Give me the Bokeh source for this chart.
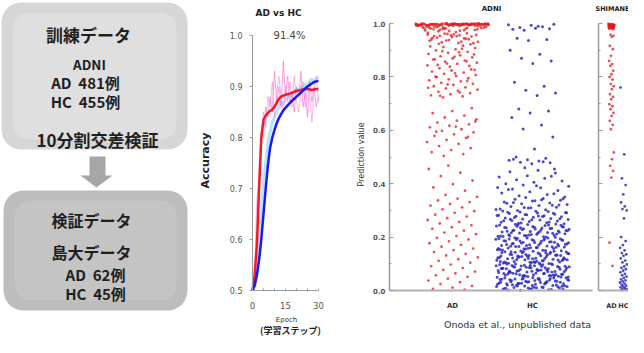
import math
from bokeh.plotting import figure
from bokeh.models import Range1d, LinearAxis, FixedTicker, PrintfTickFormatter
from bokeh.core.properties import value
from bokeh.embed import file_html
from bokeh.resources import INLINE

# ---------------- data ----------------
TRAIN_TITLE = "訓練データ"
TRAIN_SOURCE = "ADNI"
TRAIN_COUNTS = ["AD\u00a0\u00a0481例", "HC\u00a0\u00a0455例"]
TRAIN_METHOD = "10分割交差検証"
TEST_TITLE = "検証データ"
TEST_SOURCE = "島大データ"
TEST_COUNTS = ["AD\u00a0\u00a062例", "HC\u00a0\u00a045例"]

ACC_TITLE = "AD vs HC"
ACC_SCORE = "91.4%"
ACC_YLABEL = "Accuracy"
ACC_XLABEL = ["Epoch", "(学習ステップ)"]
EPOCHS = list(range(31))
ACC_RED = [0.50, 0.53, 0.59, 0.70, 0.80, 0.835, 0.843, 0.848, 0.852, 0.855, 0.860,
           0.868, 0.876, 0.880, 0.882, 0.884, 0.885, 0.886, 0.888, 0.890, 0.891,
           0.892, 0.893, 0.894, 0.895, 0.895, 0.894, 0.893, 0.894, 0.895, 0.895]
ACC_BLUE = [0.50, 0.51, 0.53, 0.56, 0.60, 0.65, 0.70, 0.745, 0.78, 0.80, 0.815,
            0.828, 0.838, 0.846, 0.853, 0.858, 0.863, 0.868, 0.872, 0.876, 0.880,
            0.884, 0.888, 0.892, 0.896, 0.900, 0.903, 0.906, 0.909, 0.910, 0.911]
ACC_PINK_1 = [0.50, 0.52, 0.60, 0.74, 0.81, 0.80, 0.86, 0.84, 0.88, 0.85, 0.93,
              0.87, 0.90, 0.86, 0.95, 0.88, 0.92, 0.87, 0.89, 0.85, 0.90,
              0.88, 0.93, 0.86, 0.89, 0.84, 0.91, 0.87, 0.90, 0.86, 0.88]
ACC_PINK_2 = [0.50, 0.55, 0.68, 0.72, 0.78, 0.85, 0.82, 0.88, 0.86, 0.91, 0.84,
              0.89, 0.92, 0.88, 0.85, 0.90, 0.87, 0.91, 0.86, 0.92, 0.87,
              0.85, 0.89, 0.91, 0.86, 0.90, 0.88, 0.83, 0.89, 0.92, 0.87]
ACC_LIGHTBLUE = [0.50, 0.52, 0.55, 0.60, 0.66, 0.71, 0.75, 0.79, 0.81, 0.83, 0.84,
                 0.85, 0.86, 0.87, 0.865, 0.875, 0.88, 0.885, 0.88, 0.89, 0.895,
                 0.89, 0.90, 0.895, 0.905, 0.90, 0.91, 0.915, 0.905, 0.915, 0.92]
ACC_YTICKS = [0.5, 0.6, 0.7, 0.8, 0.9, 1.0]
ACC_XTICKS = [0, 15, 30]
ACC_XMINOR = [5, 10, 20, 25]

PANELS = ["ADNI", "SHIMANE"]
GROUPS = ["AD", "HC"]
PRED_YLABEL = "Prediction value"
PRED_TICKS = [0.0, 0.2, 0.4, 0.6, 0.8, 1.0]
PRED_MINOR = [0.1, 0.3, 0.5, 0.7, 0.9]
CREDIT = "Onoda et al., unpublished data"

ADNI_AD = [
    0.999, 0.998, 0.997, 0.999, 0.996, 0.995, 0.998, 0.994, 0.999, 0.997,
    0.993, 0.996, 0.998, 0.992, 0.999, 0.995, 0.997, 0.991, 0.998, 0.994,
    0.999, 0.996, 0.990, 0.997, 0.998, 0.993, 0.995, 0.999, 0.989, 0.996,
    0.998, 0.994, 0.997, 0.999, 0.992, 0.995, 0.988, 0.998, 0.996, 0.999,
    0.993, 0.997, 0.987, 0.995, 0.998, 0.991, 0.999, 0.994, 0.996, 0.986,
    0.998, 0.997, 0.993, 0.999, 0.985, 0.995, 0.996, 0.998, 0.990, 0.997,
    0.999, 0.984, 0.994, 0.998, 0.996, 0.992, 0.999, 0.983, 0.997, 0.995,
    0.998, 0.989, 0.999, 0.982, 0.996, 0.994, 0.998, 0.997, 0.981, 0.999,
    0.993, 0.995, 0.980, 0.998, 0.996, 0.999, 0.988, 0.997, 0.979, 0.994,
    0.998, 0.978, 0.999, 0.995, 0.986, 0.997, 0.977, 0.996, 0.998, 0.984,
    0.976, 0.999, 0.993, 0.975, 0.997, 0.982, 0.998, 0.974, 0.995, 0.980,
    0.999, 0.973, 0.996, 0.978, 0.972, 0.994, 0.998, 0.971, 0.985, 0.968,
    0.965, 0.963, 0.961, 0.958, 0.956, 0.954, 0.951, 0.949, 0.946, 0.944,
    0.962, 0.957, 0.952, 0.947, 0.941, 0.938, 0.935, 0.932, 0.929, 0.926,
    0.959, 0.953, 0.943, 0.936, 0.931, 0.927, 0.924, 0.922, 0.955, 0.940,
    0.917, 0.912, 0.908, 0.903, 0.899, 0.894, 0.890, 0.886, 0.881, 0.877,
    0.873, 0.869, 0.865, 0.861, 0.857, 0.853, 0.849, 0.845, 0.841, 0.838,
    0.914, 0.905, 0.896, 0.884, 0.875, 0.866, 0.858, 0.850, 0.843, 0.892,
    0.832, 0.828, 0.824, 0.820, 0.816, 0.811, 0.807, 0.803, 0.799, 0.795,
    0.791, 0.787, 0.783, 0.778, 0.774, 0.770, 0.765, 0.761, 0.757, 0.752,
    0.748, 0.744, 0.739, 0.735, 0.731, 0.727, 0.723, 0.826, 0.813, 0.801,
    0.785, 0.772, 0.759, 0.742, 0.729,
    0.683, 0.672, 0.664, 0.655, 0.648, 0.641, 0.636, 0.629, 0.622, 0.617,
    0.611, 0.604, 0.598, 0.592, 0.585, 0.579, 0.571, 0.564, 0.556, 0.549,
    0.541, 0.533, 0.526, 0.518, 0.511, 0.504, 0.633, 0.614, 0.595, 0.575,
    0.468, 0.455, 0.441, 0.428, 0.412, 0.398, 0.386, 0.374,
    0.358, 0.351, 0.344, 0.337, 0.331, 0.324, 0.318, 0.311, 0.304, 0.297,
    0.291, 0.284, 0.277, 0.271, 0.264, 0.257, 0.251, 0.244, 0.237, 0.231,
    0.224, 0.217, 0.211, 0.204, 0.197, 0.191, 0.184, 0.177, 0.171, 0.164,
    0.157, 0.151, 0.144, 0.137, 0.131, 0.124, 0.117, 0.111, 0.104, 0.097,
    0.091, 0.084, 0.077, 0.071, 0.064, 0.057, 0.051, 0.044, 0.037, 0.031,
    0.024, 0.017, 0.011, 0.006, 0.003,
]

ADNI_HC = [
    0.995, 0.990, 0.985, 0.980, 0.993, 0.978, 0.988, 0.975, 0.997, 0.982,
    0.945, 0.940, 0.936,
    0.900, 0.885, 0.870, 0.860, 0.850,
    0.780, 0.765, 0.750, 0.740, 0.730,
    0.680, 0.672, 0.665, 0.648,
    0.620, 0.605, 0.575, 0.530,
    0.500, 0.495, 0.490, 0.488, 0.485, 0.480, 0.478, 0.475, 0.492, 0.482,
    0.460, 0.455, 0.450, 0.445, 0.440,
    0.430, 0.425, 0.420, 0.415, 0.410, 0.405, 0.400, 0.428,
    0.395, 0.390, 0.385, 0.380, 0.375, 0.370, 0.365, 0.360, 0.355, 0.350,
    0.392, 0.378, 0.362, 0.348, 0.386,
    0.345, 0.342, 0.338, 0.335, 0.331, 0.328, 0.325, 0.322, 0.318, 0.315,
    0.312, 0.309, 0.305, 0.302, 0.300, 0.344, 0.336, 0.327, 0.319, 0.311,
    0.303, 0.340, 0.330, 0.320, 0.310,
    0.298, 0.296, 0.294, 0.292, 0.290, 0.288, 0.286, 0.284, 0.282, 0.280,
    0.278, 0.276, 0.274, 0.272, 0.270, 0.268, 0.266, 0.264, 0.262, 0.260,
    0.258, 0.256, 0.254, 0.252, 0.250, 0.297, 0.293, 0.289, 0.285, 0.281,
    0.277, 0.273, 0.269, 0.265, 0.261, 0.257, 0.253, 0.291, 0.279, 0.267,
    0.249, 0.247, 0.245, 0.243, 0.241, 0.239, 0.237, 0.235, 0.233, 0.231,
    0.229, 0.227, 0.225, 0.223, 0.221, 0.219, 0.217, 0.215, 0.213, 0.211,
    0.209, 0.207, 0.205, 0.203, 0.201, 0.248, 0.244, 0.240, 0.236, 0.232,
    0.228, 0.224, 0.220, 0.216, 0.212, 0.208, 0.204, 0.200, 0.246, 0.238,
    0.230, 0.222, 0.214, 0.206, 0.242, 0.234, 0.226, 0.218, 0.210, 0.202,
    0.245, 0.235, 0.225, 0.215, 0.205,
    0.199, 0.197, 0.195, 0.193, 0.191, 0.189, 0.187, 0.185, 0.183, 0.181,
    0.179, 0.177, 0.175, 0.173, 0.171, 0.169, 0.167, 0.165, 0.163, 0.161,
    0.159, 0.157, 0.155, 0.153, 0.151, 0.198, 0.194, 0.190, 0.186, 0.182,
    0.178, 0.174, 0.170, 0.166, 0.162, 0.158, 0.154, 0.150, 0.196, 0.188,
    0.180, 0.172, 0.164, 0.156, 0.192, 0.184, 0.176, 0.168, 0.160, 0.152,
    0.197, 0.185, 0.173, 0.161, 0.193, 0.181, 0.169, 0.157, 0.189, 0.165,
    0.149, 0.147, 0.145, 0.143, 0.141, 0.139, 0.137, 0.135, 0.133, 0.131,
    0.129, 0.127, 0.125, 0.123, 0.121, 0.119, 0.117, 0.115, 0.113, 0.111,
    0.109, 0.107, 0.105, 0.103, 0.101, 0.148, 0.144, 0.140, 0.136, 0.132,
    0.128, 0.124, 0.120, 0.116, 0.112, 0.108, 0.104, 0.100, 0.146, 0.138,
    0.130, 0.122, 0.114, 0.106, 0.142, 0.134, 0.126, 0.118, 0.110, 0.102,
    0.147, 0.135, 0.123, 0.111, 0.143, 0.131, 0.119, 0.107, 0.139, 0.127,
    0.115, 0.103, 0.145, 0.133, 0.121, 0.109, 0.141, 0.129, 0.117, 0.105,
    0.099, 0.097, 0.095, 0.093, 0.091, 0.089, 0.087, 0.085, 0.083, 0.081,
    0.079, 0.077, 0.075, 0.073, 0.071, 0.069, 0.067, 0.065, 0.063, 0.061,
    0.059, 0.057, 0.055, 0.053, 0.051, 0.098, 0.094, 0.090, 0.086, 0.082,
    0.078, 0.074, 0.070, 0.066, 0.062, 0.058, 0.054, 0.050, 0.096, 0.088,
    0.080, 0.072, 0.064, 0.056, 0.092, 0.084, 0.076, 0.068, 0.060, 0.052,
    0.097, 0.085, 0.073, 0.061, 0.093, 0.081, 0.069, 0.057, 0.089, 0.077,
    0.065, 0.053, 0.095, 0.083, 0.071, 0.059, 0.091, 0.079, 0.067, 0.055,
    0.087, 0.075, 0.063, 0.099, 0.051,
    0.049, 0.047, 0.045, 0.043, 0.041, 0.039, 0.037, 0.035, 0.033, 0.031,
    0.029, 0.027, 0.025, 0.023, 0.021, 0.019, 0.017, 0.015, 0.013, 0.011,
    0.009, 0.007, 0.005, 0.003, 0.001, 0.048, 0.044, 0.040, 0.036, 0.032,
    0.028, 0.024, 0.020, 0.016, 0.012, 0.008, 0.004, 0.046, 0.038, 0.030,
    0.022, 0.014, 0.006, 0.042, 0.034, 0.026, 0.018, 0.010, 0.002, 0.047,
    0.035, 0.023, 0.011, 0.043, 0.031, 0.019, 0.007, 0.039, 0.027, 0.015,
    0.045, 0.033, 0.021, 0.009, 0.041, 0.029, 0.017, 0.005, 0.037, 0.025,
]

SHIM_AD = [
    0.999, 0.998, 0.997, 0.996, 0.995, 0.994, 0.993, 0.992, 0.991, 0.990,
    0.989, 0.988, 0.987, 0.986, 0.985, 0.984, 0.983, 0.982, 0.980, 0.978,
    0.997, 0.994, 0.991, 0.988, 0.985, 0.996, 0.993, 0.989,
    0.958, 0.954, 0.950,
    0.916, 0.904, 0.879, 0.860, 0.848, 0.841, 0.823, 0.810, 0.800, 0.790,
    0.773, 0.765, 0.754, 0.735, 0.725, 0.716, 0.698, 0.690, 0.679, 0.665,
    0.654, 0.635, 0.620, 0.604,
    0.517, 0.492, 0.467, 0.448, 0.423,
    0.179, 0.092,
]
SHIM_HC = [
    0.760, 0.510, 0.420, 0.395, 0.360, 0.330, 0.315, 0.305, 0.300, 0.270,
    0.200, 0.185, 0.170, 0.160, 0.150, 0.140, 0.135, 0.130,
    0.120, 0.112, 0.105, 0.098, 0.090, 0.085, 0.080, 0.074, 0.068, 0.062,
    0.057, 0.052, 0.047, 0.042, 0.038, 0.034, 0.030, 0.026, 0.022, 0.018,
    0.015, 0.012, 0.009, 0.006, 0.004, 0.002, 0.001,
]

# ---------------- layout (reference pixel coordinates) ----------------
W, H = 628, 337
X0, X1 = 8, 636
Y0, Y1 = 8, 345

JP = value("Noto Sans CJK JP")
SANS = value("DejaVu Sans")


def lin_range(va, pa, vb, pb, plo, phi):
    k = (vb - va) / (pb - pa)
    return Range1d(start=va + (plo - pa) * k, end=va + (phi - pa) * k)


def px_to_val(va, pa, vb, pb, px):
    return va + (px - pa) * (vb - va) / (pb - pa)


def strip_x(center, values, wide, narrow, cut, wide_above):
    """Deterministic strip-plot spread: wider where the strip is dense."""
    out = []
    for i, v in enumerate(values):
        frac = (((i * 0.6180339887) % 1.0) * 2.0) - 1.0
        dense = (v >= cut) if wide_above else (v <= cut)
        out.append(center + frac * (wide if dense else narrow))
    return out


p = figure(width=W, height=H, x_range=Range1d(X0, X1), y_range=Range1d(Y1, Y0),
           output_backend="svg", toolbar_location=None, min_border=0,
           x_axis_location=None, y_axis_location=None)
p.grid.visible = False
p.outline_line_color = None
p.background_fill_color = "white"

# sub-plot scales
ACC_MAP_X = (0, 260, 30, 326)
ACC_MAP_Y = (0.5, 298, 1.0, 43)
ADNI_MAP_X = (1, 460, 2, 540)
SHIM_MAP_X = (1, 619, 2, 631)
PRED_MAP_Y = (0.0, 298, 1.0, 31)

p.extra_x_ranges = {
    "acc_x": lin_range(*ACC_MAP_X, X0, X1),
    "adni_x": lin_range(*ADNI_MAP_X, X0, X1),
    "shim_x": lin_range(*SHIM_MAP_X, X0, X1),
}
p.extra_y_ranges = {
    "acc_y": lin_range(*ACC_MAP_Y, Y1, Y0),
    "pred_y": lin_range(*PRED_MAP_Y, Y1, Y0),
}

# ---------------- flowchart ----------------
p.quad(left=[9], right=[195], top=[10], bottom=[157], border_radius=20,
       fill_color="#d6d6d6", line_color=None)
p.quad(left=[20], right=[184], top=[20], bottom=[147], border_radius=16,
       fill_color="#e2e2e2", fill_alpha=0.7, line_color=None)
p.quad(left=[11], right=[195], top=[198], bottom=[318], border_radius=20,
       fill_color="#bdbdbd", line_color=None)
p.quad(left=[22], right=[184], top=[208], bottom=[308], border_radius=16,
       fill_color="#c8c8c8", fill_alpha=0.7, line_color=None)
p.patch(x=[97, 113, 113, 120, 104, 88, 97], y=[164, 164, 183, 183, 195, 183, 183],
        fill_color="#a6a6a6", line_color=None)

TXT = "#1f1f1f"
p.text(x=[96], y=[42], text=[TRAIN_TITLE], text_font=JP, text_font_style="bold",
       text_font_size="17px", text_align="center", text_baseline="middle", text_color=TXT)
p.text(x=[97], y=[71], text=[TRAIN_SOURCE], text_font=JP, text_font_style="bold",
       text_font_size="13.5px", text_align="center", text_baseline="middle", text_color=TXT)
p.text(x=[93, 93], y=[90, 109], text=TRAIN_COUNTS, text_font=JP, text_font_style="bold",
       text_font_size="15px", text_align="center", text_baseline="middle", text_color=TXT)
p.text(x=[105], y=[147], text=[TRAIN_METHOD], text_font=JP, text_font_style="bold",
       text_font_size="17px", text_align="center", text_baseline="middle", text_color=TXT)
p.text(x=[99, 99], y=[227, 259], text=[TEST_TITLE, TEST_SOURCE], text_font=JP,
       text_font_style="bold", text_font_size="16px", text_align="center",
       text_baseline="middle", text_color=TXT)
p.text(x=[103, 103], y=[282, 301], text=TEST_COUNTS, text_font=JP, text_font_style="bold",
       text_font_size="15px", text_align="center", text_baseline="middle", text_color=TXT)

# ---------------- accuracy curves ----------------
acc = dict(x_range_name="acc_x", y_range_name="acc_y")
p.line(EPOCHS, ACC_LIGHTBLUE, line_color="#7fd0ff", line_width=3, line_alpha=0.6, **acc)
p.line(EPOCHS, ACC_PINK_1, line_color="#ff55cc", line_width=1, line_alpha=0.55, **acc)
p.line(EPOCHS, ACC_PINK_2, line_color="#ff77dd", line_width=1, line_alpha=0.55, **acc)
p.line(EPOCHS, ACC_RED, line_color="#ee1c24", line_width=2.5, **acc)
p.line(EPOCHS, ACC_BLUE, line_color="#1a1aee", line_width=2.5, **acc)

AX_COL = "#9a9a9a"
LBL_COL = "#555555"

ay = LinearAxis(x_range_name="acc_x", y_range_name="acc_y", fixed_location=0,
                bounds=(ACC_YTICKS[0], ACC_YTICKS[-1]),
                ticker=FixedTicker(ticks=ACC_YTICKS, minor_ticks=[]),
                formatter=PrintfTickFormatter(format="%.1f"))
ay.axis_line_color = AX_COL
ay.major_tick_line_color = AX_COL
ay.major_tick_out = 3
ay.major_tick_in = 0
ay.major_label_standoff = 7
ay.major_label_text_font = "DejaVu Sans"
ay.major_label_text_font_size = "8px"
ay.major_label_text_color = LBL_COL
p.add_layout(ay, "left")

ax = LinearAxis(x_range_name="acc_x", y_range_name="acc_y", fixed_location=0.5,
                bounds=(ACC_XTICKS[0], ACC_XTICKS[-1]),
                ticker=FixedTicker(ticks=ACC_XTICKS, minor_ticks=ACC_XMINOR))
ax.axis_line_color = AX_COL
ax.major_tick_line_color = AX_COL
ax.minor_tick_line_color = AX_COL
ax.major_tick_out = 0
ax.major_tick_in = 2
ax.minor_tick_out = 0
ax.minor_tick_in = 2
ax.major_label_standoff = 11
ax.major_label_text_font = "DejaVu Sans"
ax.major_label_text_font_size = "8.5px"
ax.major_label_text_color = LBL_COL
p.add_layout(ax, "below")

p.text(x=[286], y=[20], text=[ACC_TITLE], text_font=SANS, text_font_style="bold",
       text_font_size="9px", text_align="center", text_baseline="middle", text_color="#222222")
p.text(x=[297], y=[43], text=[ACC_SCORE], text_font=SANS, text_font_size="10px",
       text_align="center", text_baseline="middle", text_color="#444444")
p.text(x=[213], y=[168], text=[ACC_YLABEL], angle=math.pi / 2, text_font=SANS,
       text_font_style="bold", text_font_size="11px", text_align="center",
       text_baseline="middle", text_color="#222222")
p.text(x=[294], y=[327], text=[ACC_XLABEL[0]], text_font=SANS, text_font_size="7px",
       text_align="center", text_baseline="middle", text_color="#333333")
p.text(x=[298], y=[338], text=[ACC_XLABEL[1]], text_font=JP, text_font_style="bold",
       text_font_size="9px", text_align="center", text_baseline="middle", text_color="#222222")

# ---------------- prediction strips ----------------
RED = "#e31a1c"
BLUE = "#2b2bbf"

adni = dict(x_range_name="adni_x", y_range_name="pred_y")
shim = dict(x_range_name="shim_x", y_range_name="pred_y")

p.scatter(strip_x(1, ADNI_AD, 0.46, 0.32, 0.965, True), ADNI_AD, size=2.8,
          fill_color=RED, fill_alpha=0.75, line_color=None, **adni)
p.scatter(strip_x(2, ADNI_HC, 0.46, 0.30, 0.45, False), ADNI_HC, size=3.0,
          fill_color=BLUE, fill_alpha=0.85, line_color=None, **adni)
p.scatter(strip_x(1, SHIM_AD, 0.25, 0.2, 0.97, True), SHIM_AD, size=2.8,
          fill_color=RED, fill_alpha=0.75, line_color=None, **shim)
p.scatter(strip_x(2, SHIM_HC, 0.3, 0.25, 0.3, False), SHIM_HC, size=2.8,
          fill_color=BLUE, fill_alpha=0.85, line_color=None, **shim)

adni_axis_x = px_to_val(*ADNI_MAP_X, 397)
adni_end_x = px_to_val(*ADNI_MAP_X, 600)
shim_axis_x = px_to_val(*SHIM_MAP_X, 606)
shim_end_x = px_to_val(*SHIM_MAP_X, 660)


def pred_yaxis(xr, loc, show_labels):
    a = LinearAxis(x_range_name=xr, y_range_name="pred_y", fixed_location=loc,
                   bounds=(0.0, 1.0),
                   ticker=FixedTicker(ticks=PRED_TICKS, minor_ticks=PRED_MINOR),
                   formatter=PrintfTickFormatter(format="%.1f"))
    a.axis_line_color = AX_COL
    a.axis_line_width = 1.5
    a.major_tick_line_color = AX_COL
    a.minor_tick_line_color = AX_COL
    a.major_tick_in = 4
    a.major_tick_out = 0
    a.minor_tick_in = 2
    a.minor_tick_out = 0
    a.major_label_standoff = 4
    a.major_label_text_font = "DejaVu Sans"
    a.major_label_text_font_size = "7px"
    a.major_label_text_font_style = "bold"
    a.major_label_text_color = LBL_COL if show_labels else None
    p.add_layout(a, "left")


def pred_xaxis(xr, start, end, size):
    a = LinearAxis(x_range_name=xr, y_range_name="pred_y", fixed_location=0.0,
                   bounds=(start, end), ticker=FixedTicker(ticks=[1, 2], minor_ticks=[]),
                   major_label_overrides={1: GROUPS[0], 2: GROUPS[1]})
    a.axis_line_color = "#b0b0b0"
    a.axis_line_width = 2
    a.major_tick_line_color = None
    a.major_label_standoff = 5
    a.major_label_text_font = "DejaVu Sans"
    a.major_label_text_font_size = size
    a.major_label_text_font_style = "bold"
    a.major_label_text_color = "#333333"
    p.add_layout(a, "below")


pred_yaxis("adni_x", adni_axis_x, True)
pred_yaxis("shim_x", shim_axis_x, False)
pred_xaxis("adni_x", adni_axis_x, adni_end_x, "7px")
pred_xaxis("shim_x", shim_axis_x, shim_end_x, "6.5px")

p.text(x=[499], y=[16], text=[PANELS[0]], text_font=SANS, text_font_style="bold",
       text_font_size="7px", text_align="center", text_baseline="middle", text_color="#222222")
p.text(x=[603], y=[16], text=[PANELS[1]], text_font=SANS, text_font_style="bold",
       text_font_size="6.5px", text_align="left", text_baseline="middle", text_color="#222222")
p.text(x=[369], y=[162], text=[PRED_YLABEL], angle=math.pi / 2, text_font=SANS,
       text_font_size="8px", text_align="center", text_baseline="middle", text_color="#333333")
p.text(x=[525], y=[332], text=[CREDIT], text_font=SANS, text_font_size="9.5px",
       text_align="center", text_baseline="middle", text_color="#333333")

open("out.html", "w").write(file_html(p, INLINE))
